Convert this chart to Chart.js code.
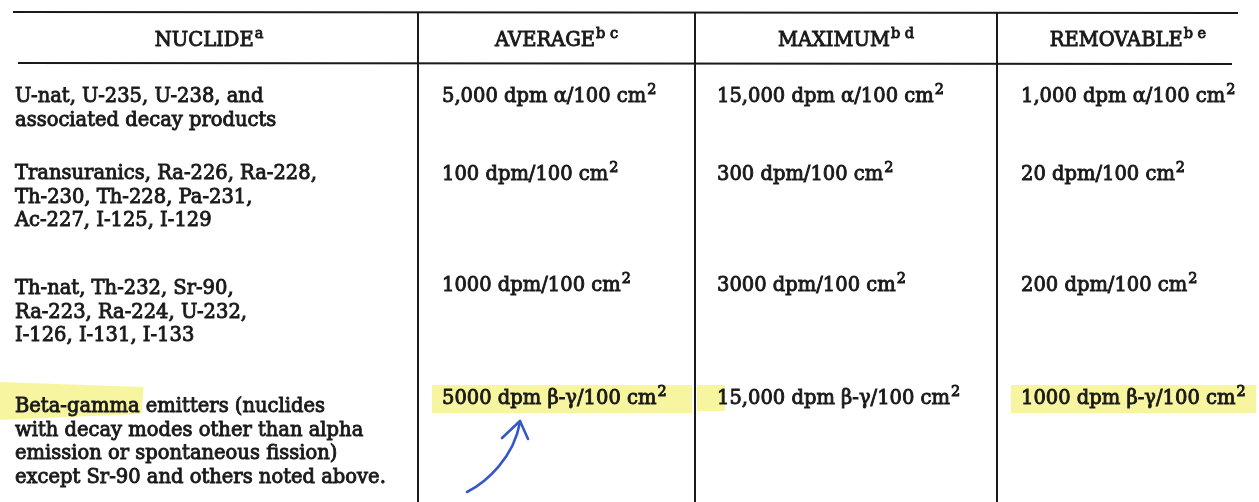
<!DOCTYPE html>
<html>
<head>
<meta charset="utf-8">
<script src="https://cdn.jsdelivr.net/npm/chart.js@4.4.1/dist/chart.umd.min.js"></script>
<style>
  html, body { margin: 0; padding: 0; background: #ffffff; }
  #wrap { width: 1259px; height: 502px; }
</style>
</head>
<body>
<div id="wrap"><canvas id="c" width="1259" height="502"></canvas></div>
<script>
// ---- table content (data) ----
const headers = ['NUCLIDE^a', 'AVERAGE^b c', 'MAXIMUM^b d', 'REMOVABLE^b e'];
const nuclides = [
  ['U-nat, U-235, U-238, and', 'associated decay products'],
  ['Transuranics, Ra-226, Ra-228,', 'Th-230, Th-228, Pa-231,', 'Ac-227, I-125, I-129'],
  ['Th-nat, Th-232, Sr-90,', 'Ra-223, Ra-224, U-232,', 'I-126, I-131, I-133'],
  ['Beta-gamma emitters (nuclides', 'with decay modes other than alpha', 'emission or spontaneous fission)', 'except Sr-90 and others noted above.']
];
const averageLimits = ['5,000 dpm α/100 cm^2', '100 dpm/100 cm^2', '1000 dpm/100 cm^2', '5000 dpm β-γ/100 cm^2'];
const maximumLimits = ['15,000 dpm α/100 cm^2', '300 dpm/100 cm^2', '3000 dpm/100 cm^2', '15,000 dpm β-γ/100 cm^2'];
const removableLimits = ['1,000 dpm α/100 cm^2', '20 dpm/100 cm^2', '200 dpm/100 cm^2', '1000 dpm β-γ/100 cm^2'];
// highlighted (marker pen) text in the last row
const highlightedNuclideWords = ['', '', '', 'Beta-gamma'];
const highlightedLimitRows = [3];

// ---- layout (positions / styles, not data) ----
const layoutCfg = {
  colEdges: [0, 418, 695, 997, 1259],
  tableTop: 12, headerBottom: 63, tableBottom: 502, lineLeft: 13, lineRight: 1238,
  headerMidY: 41,
  rowFirstLineY: [97, 174, 289, 407],
  rowValueY: [97, 175, 286, 399],
  lineStep: 23.5,
  textLeft: [15, 442, 717, 1021],
  font: 'DejaVu Serif', weight: 'normal', size: 19.5, supSize: 14.5, supRise: 7, stroke: 0.9,
  ink: '#1a1a1a', marker: 'rgba(244, 240, 110, 0.65)', pen: '#3558c8'
};

function fontFor(sg, L) {
  return L.weight + ' ' + (sg.sup ? L.supSize : L.size) + 'px "' + L.font + '"';
}
function parseRich(s) {
  const i = s.indexOf('^');
  if (i < 0) return [{ t: s, sup: false }];
  return [{ t: s.slice(0, i), sup: false }, { t: s.slice(i + 1), sup: true }];
}
function richWidth(ctx, segs, L) {
  let w = 0;
  segs.forEach(sg => {
    ctx.font = fontFor(sg, L);
    w += ctx.measureText(sg.t).width + (sg.sup ? 1 : 0);
  });
  return w;
}
function drawRich(ctx, segs, x, y, L) {
  segs.forEach(sg => {
    ctx.font = fontFor(sg, L);
    const yy = sg.sup ? y - L.supRise : y;
    const xx = sg.sup ? x + 1 : x;
    ctx.fillText(sg.t, xx, yy);
    ctx.lineWidth = L.stroke; ctx.strokeStyle = L.ink; ctx.strokeText(sg.t, xx, yy);
    x = xx + ctx.measureText(sg.t).width;
  });
  return x;
}

const tablePlugin = {
  id: 'tablePlugin',
  afterDraw(chart) {
    const ctx = chart.ctx, L = layoutCfg;
    const sx = v => chart.scales.x.getPixelForValue(v);
    const sy = v => chart.scales.y.getPixelForValue(v);
    ctx.save();
    ctx.textBaseline = 'middle';

    // marker highlights (under the text)
    ctx.fillStyle = L.marker;
    nuclides.forEach((lines, r) => {
      const w = highlightedNuclideWords[r];
      if (!w) return;
      ctx.font = fontFor({ sup: false }, L);
      const tw = ctx.measureText(w).width;
      const y = sy(L.rowFirstLineY[r]);
      ctx.beginPath();
      ctx.moveTo(sx(0), y - 25); ctx.lineTo(sx(L.textLeft[0]) + tw + 4, y - 20);
      ctx.lineTo(sx(L.textLeft[0]) + tw + 2, y + 7); ctx.lineTo(sx(0), y + 13);
      ctx.closePath(); ctx.fill();
    });
    highlightedLimitRows.forEach(r => {
      const y = sy(L.rowValueY[r]);
      [1, 3].forEach(c => {
        const x0 = sx(L.textLeft[c]) - 10;
        const x1 = sx(L.colEdges[c + 1]) - 3;
        ctx.fillStyle = L.marker;
        ctx.fillRect(x0, y - 14, x1 - x0, 28);
      });
      // the pen stroke spills over into the maximum column
      ctx.fillRect(sx(L.colEdges[2]) + 2, y - 14, sx(L.textLeft[2]) - sx(L.colEdges[2]) + 6, 26);
    });

    // grid lines
    ctx.strokeStyle = L.ink;
    ctx.lineWidth = 2;
    ctx.beginPath();
    ctx.moveTo(sx(L.lineLeft), sy(L.tableTop)); ctx.lineTo(sx(L.lineRight), sy(L.tableTop) + 1);
    ctx.moveTo(sx(L.lineLeft + 5), sy(L.headerBottom)); ctx.lineTo(sx(L.lineRight - 6), sy(L.headerBottom) + 1);
    ctx.stroke();
    ctx.beginPath();
    for (let i = 1; i < L.colEdges.length - 1; i++) {
      ctx.moveTo(sx(L.colEdges[i]), sy(L.tableTop));
      ctx.lineTo(sx(L.colEdges[i]), sy(L.tableBottom));
    }
    ctx.stroke();

    // headers
    ctx.fillStyle = L.ink;
    headers.forEach((h, c) => {
      const segs = parseRich(h);
      const w = richWidth(ctx, segs, L);
      const cx = (sx(L.colEdges[c]) + sx(L.colEdges[c + 1])) / 2;
      drawRich(ctx, segs, cx - w / 2, sy(L.headerMidY), L);
    });

    // nuclide column
    nuclides.forEach((lines, r) => {
      lines.forEach((ln, k) => {
        drawRich(ctx, [{ t: ln, sup: false }], sx(L.textLeft[0]), sy(L.rowFirstLineY[r] + k * L.lineStep), L);
      });
    });
    // limit columns
    [averageLimits, maximumLimits, removableLimits].forEach((arr, i) => {
      arr.forEach((v, r) => {
        drawRich(ctx, parseRich(v), sx(L.textLeft[i + 1]), sy(L.rowValueY[r]), L);
      });
    });

    // hand-drawn pen arrow pointing at the highlighted average
    const ax = sx(L.textLeft[1]), ay = sy(L.rowValueY[3]);
    ctx.strokeStyle = L.pen; ctx.lineWidth = 2.6; ctx.lineCap = 'round'; ctx.lineJoin = 'round';
    ctx.beginPath();
    ctx.moveTo(ax + 25, ay + 93);
    ctx.bezierCurveTo(ax + 45, ay + 83, ax + 72, ay + 58, ax + 78, ay + 23);
    ctx.stroke();
    ctx.beginPath();
    ctx.moveTo(ax + 60, ay + 39); ctx.lineTo(ax + 78, ay + 22); ctx.lineTo(ax + 86, ay + 40);
    ctx.stroke();
    ctx.restore();
  }
};

new Chart(document.getElementById('c'), {
  type: 'scatter',
  data: { datasets: [] },
  options: {
    responsive: false, animation: false, devicePixelRatio: 1,
    layout: { padding: 0 },
    plugins: { legend: { display: false }, tooltip: { enabled: false } },
    scales: {
      x: { type: 'linear', min: 0, max: 1259, display: false },
      y: { type: 'linear', min: 0, max: 502, reverse: true, display: false }
    }
  },
  plugins: [tablePlugin]
});
</script>
</body>
</html>
